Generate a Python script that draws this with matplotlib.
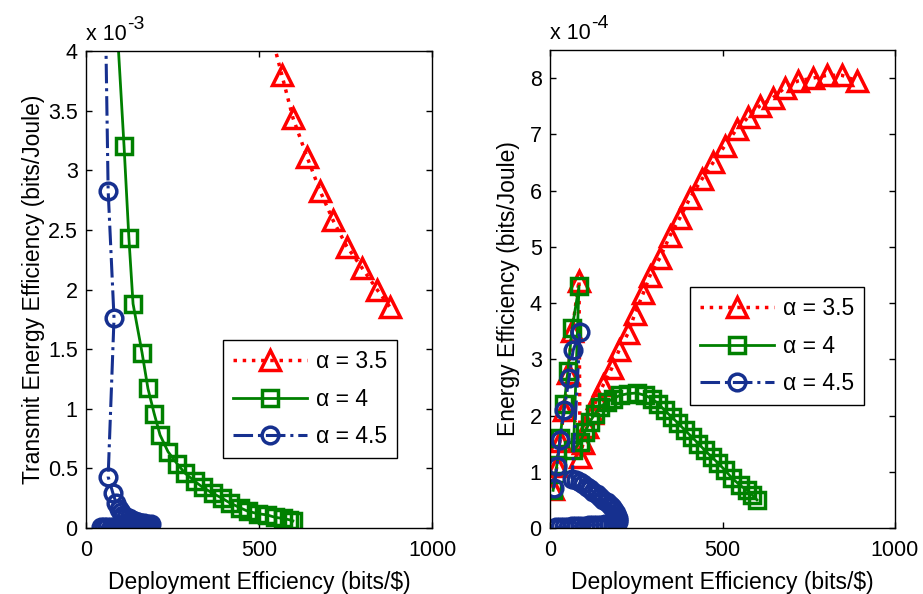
import matplotlib
matplotlib.use("Agg")
import matplotlib.pyplot as plt

plt.rcParams['font.family'] = ['Liberation Sans', 'DejaVu Sans']
plt.rcParams['mathtext.default'] = 'regular'

# ---------------- data ----------------
# left panel: Transmit Energy Efficiency (x 1e-3 bits/Joule) vs Deployment Efficiency (bits/$)
left_red_x = [530, 566, 598, 639, 676, 714, 754, 798, 841, 879]
left_red_y = [4.20, 3.80, 3.44, 3.11, 2.83, 2.58, 2.36, 2.18, 2.00, 1.85]

left_green_x = [80, 110, 124, 136, 162, 179, 197, 214, 237, 263, 286, 315, 338, 367,
                393, 416, 445, 468, 497, 523, 546, 569, 586, 598]
left_green_y = [4.70, 3.20, 2.43, 1.88, 1.47, 1.17, 0.96, 0.78, 0.64, 0.54, 0.46, 0.39,
                0.34, 0.29, 0.25, 0.21, 0.17, 0.14, 0.12, 0.11, 0.09, 0.08, 0.07, 0.06]

left_blue_x = [50, 64, 81, 64, 78, 87, 94, 101, 108, 116, 124, 132, 141, 150, 159, 168,
               177, 187, 182, 172, 162, 152, 142, 132, 122, 112, 102, 92, 82, 72, 62,
               52, 42]
left_blue_y = [5.50, 2.83, 1.76, 0.43, 0.29, 0.21, 0.16, 0.13, 0.11, 0.09, 0.08, 0.07,
               0.06, 0.05, 0.045, 0.04, 0.035, 0.03, 0.025, 0.022, 0.02, 0.019, 0.018,
               0.017, 0.016, 0.015, 0.014, 0.013, 0.012, 0.011, 0.01, 0.009, 0.008]

# right panel: Energy Efficiency (x 1e-4 bits/Joule) vs Deployment Efficiency (bits/$)
right_red_x = [9, 20, 29, 41, 52, 64, 84,
               87, 96, 107, 121, 136, 154, 179, 200, 226, 246, 270, 290, 319, 348,
               377, 406, 441, 473, 507, 542, 574, 609, 646, 681, 719, 762, 803, 846, 890]
right_red_y = [0.70, 1.10, 1.55, 2.10, 2.75, 3.50, 4.40,
               1.26, 1.51, 1.79, 2.04, 2.31, 2.54, 2.84, 3.16, 3.46, 3.81, 4.17, 4.49,
               4.81, 5.20, 5.52, 5.87, 6.21, 6.50, 6.80, 7.10, 7.30, 7.51, 7.65, 7.83,
               7.95, 8.00, 8.05, 8.05, 7.95]

right_green_x = [9, 20, 29, 41, 52, 64, 84,
                 68, 87, 101, 116, 130, 145, 164, 184, 203, 227, 251, 275, 295, 314,
                 333, 353, 372, 391, 411, 430, 449, 469, 488, 507, 527, 551, 571, 586, 600]
right_green_y = [0.67, 1.12, 1.60, 2.20, 2.80, 3.55, 4.30,
                 1.38, 1.53, 1.71, 1.89, 2.03, 2.15, 2.24, 2.30, 2.36, 2.39, 2.40, 2.36,
                 2.30, 2.21, 2.09, 1.97, 1.86, 1.74, 1.62, 1.50, 1.38, 1.26, 1.15, 1.03,
                 0.89, 0.76, 0.67, 0.59, 0.50]

right_blue_x = [11, 20, 29, 41, 55, 67, 87,
                64, 76, 87, 97, 107, 116, 125, 135, 145, 155, 165, 173, 180, 186, 190,
                194, 197, 198, 196, 190, 182, 172, 160, 148, 136, 124, 112, 100, 88,
                76, 64, 52, 40, 28, 18]
right_blue_y = [0.71, 1.10, 1.56, 2.10, 2.66, 3.16, 3.48,
                0.88, 0.86, 0.82, 0.78, 0.73, 0.69, 0.64, 0.60, 0.55, 0.50, 0.46, 0.41,
                0.37, 0.32, 0.27, 0.22, 0.18, 0.14, 0.11, 0.09, 0.08, 0.07, 0.065, 0.06,
                0.055, 0.05, 0.045, 0.04, 0.036, 0.032, 0.028, 0.024, 0.02, 0.016, 0.012]

labels = ['\u03b1 = 3.5', '\u03b1 = 4', '\u03b1 = 4.5']
x_ticks = [0, 500, 1000]
left_y_ticks = [0, 0.5, 1, 1.5, 2, 2.5, 3, 3.5, 4]
left_y_ticklabels = ['0', '0.5', '1', '1.5', '2', '2.5', '3', '3.5', '4']
right_y_ticks = [0, 1, 2, 3, 4, 5, 6, 7, 8]

# ---------------- styles ----------------
RED = '#FF0000'
GREEN = '#008000'
BLUE = '#16308F'
FS_TICK = 15.5
FS_LABEL = 16.5
FS_LEG = 16.5

styles = [
    dict(color=RED, linestyle=':', marker='^', markersize=15, mew=2.5, lw=2.5,
         markerfacecolor='none'),
    dict(color=GREEN, linestyle='-', marker='s', markersize=12, mew=2.5, lw=2.0,
         markerfacecolor='none'),
    dict(color=BLUE, linestyle='-.', marker='o', markersize=12, mew=2.5, lw=2.2,
         markerfacecolor='none'),
]

fig = plt.figure(figsize=(9.23, 5.94), dpi=100)
axL = fig.add_axes([86 / 923, 1 - 528 / 594, 346 / 923, 477 / 594])
axR = fig.add_axes([550 / 923, 1 - 528 / 594, 345 / 923, 478 / 594])


def style_axes(ax):
    ax.tick_params(direction='in', top=True, right=True, length=4, width=1,
                   labelsize=FS_TICK, pad=6)
    ax.tick_params(axis='x', pad=9)
    for s in ax.spines.values():
        s.set_linewidth(1.0)


def make_legend(ax, anchor):
    leg = ax.legend(loc='upper left', bbox_to_anchor=anchor, borderaxespad=0,
                    fontsize=FS_LEG, handlelength=3.2, handletextpad=0.4,
                    labelspacing=0.62, borderpad=0.45, fancybox=False, framealpha=1,
                    edgecolor='black', numpoints=1)
    leg.get_frame().set_linewidth(1.0)
    return leg


def exponent_label(ax, exp_text):
    t = ax.text(0.0, 1.012, 'x 10', transform=ax.transAxes, fontsize=FS_TICK,
                ha='left', va='bottom')
    ax.annotate(exp_text, xy=(1, 1), xycoords=t, xytext=(0.5, 0),
                textcoords='offset points', fontsize=FS_TICK - 1.5, ha='left',
                va='center')


# left
for xs, ys, st, lab in zip([left_red_x, left_green_x, left_blue_x],
                           [left_red_y, left_green_y, left_blue_y], styles, labels):
    axL.plot(xs, ys, label=lab, **st)
axL.set_xlim(0, 1000)
axL.set_ylim(0, 4)
axL.set_xticks(x_ticks)
axL.set_yticks(left_y_ticks)
axL.set_yticklabels(left_y_ticklabels)
style_axes(axL)
axL.set_xlabel('Deployment Efficiency (bits/$)', fontsize=FS_LABEL, labelpad=7)
axL.set_ylabel('Transmit Energy Efficiency (bits/Joule)', fontsize=FS_LABEL, labelpad=2)
exponent_label(axL, '-3')
make_legend(axL, (0.396, 0.394))

# right
for xs, ys, st, lab in zip([right_red_x, right_green_x, right_blue_x],
                           [right_red_y, right_green_y, right_blue_y], styles, labels):
    axR.plot(xs, ys, label=lab, **st)
axR.set_xlim(0, 1000)
axR.set_ylim(0, 8.5)
axR.set_xticks(x_ticks)
axR.set_yticks(right_y_ticks)
style_axes(axR)
axR.set_xlabel('Deployment Efficiency (bits/$)', fontsize=FS_LABEL, labelpad=7)
axR.set_ylabel('Energy Efficiency (bits/Joule)', fontsize=FS_LABEL, labelpad=7)
exponent_label(axR, '-4')
make_legend(axR, (0.406, 0.504))

fig.savefig('out.png', dpi=100)
